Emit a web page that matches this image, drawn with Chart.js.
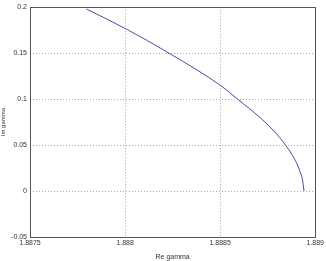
<!DOCTYPE html>
<html>
<head>
<meta charset="UTF-8">
<title>Im gamma vs Re gamma</title>
<script src="https://cdn.jsdelivr.net/npm/chart.js"></script>
<style>
  body { margin: 0; background: #fff; }
</style>
</head>
<body>
<canvas id="gammaChart" width="326" height="261"></canvas>
<script>
  // values
  const reGamma = [1.887797, 1.888005, 1.888231, 1.888510, 1.888585, 1.888723, 1.888783, 1.888844, 1.888879, 1.888903, 1.888919, 1.888933, 1.888941];
  const imGamma = [0.198, 0.1764, 0.150, 0.1137, 0.1011, 0.0775, 0.0652, 0.050, 0.0391, 0.030, 0.0217, 0.0123, 0.0];
  const xTickLabels = ['1.8875', '1.888', '1.8885', '1.889'];
  const yTickLabels = ['-0.05', '0', '0.05', '0.1', '0.15', '0.2'];

  const points = reGamma.map((x, i) => ({ x: x, y: imGamma[i] }));

  // box around the plot area, like matlab axes
  const boxPlugin = {
    id: 'box',
    afterDraw(chart) {
      const a = chart.chartArea;
      const ctx = chart.ctx;
      ctx.save();
      ctx.strokeStyle = '#555';
      ctx.lineWidth = 1;
      ctx.strokeRect(Math.round(a.left) + 0.5, Math.round(a.top) + 0.5,
        Math.round(a.right - a.left), Math.round(a.bottom - a.top));
      ctx.restore();
    }
  };

  const font = { family: 'Arial, "Liberation Sans", sans-serif', size: 7 };

  new Chart(document.getElementById('gammaChart'), {
    type: 'scatter',
    data: {
      datasets: [{
        data: points,
        showLine: true,
        borderColor: '#4b4ba8',
        borderWidth: 1,
        pointRadius: 0,
        cubicInterpolationMode: 'monotone',
        fill: false
      }]
    },
    options: {
      responsive: false,
      animation: false,
      layout: { padding: { left: 0, right: 9, top: 6, bottom: 0 } },
      plugins: { legend: { display: false }, tooltip: { enabled: false } },
      scales: {
        x: {
          type: 'linear',
          min: 1.8875,
          max: 1.889,
          afterBuildTicks(axis) {
            axis.ticks = xTickLabels.map(v => ({ value: parseFloat(v) }));
          },
          afterFit(axis) { axis.height = 24; },
          ticks: {
            color: '#333',
            font: font,
            padding: 2,
            maxRotation: 0,
            callback: (v, i) => xTickLabels[i]
          },
          grid: { color: '#aaa', tickLength: 0, lineWidth: 1 },
          border: { display: false, dash: [1, 2] },
          title: { display: true, text: 'Re gamma', color: '#333', font: font, padding: { top: 4, bottom: 0 } }
        },
        y: {
          type: 'linear',
          min: -0.05,
          max: 0.2,
          afterBuildTicks(axis) {
            axis.ticks = yTickLabels.map(v => ({ value: parseFloat(v) }));
          },
          afterFit(axis) { axis.width = 30; },
          ticks: {
            color: '#333',
            font: font,
            padding: 3,
            callback: (v, i) => yTickLabels[i]
          },
          grid: { color: '#aaa', tickLength: 0, lineWidth: 1 },
          border: { display: false, dash: [1, 2] },
          title: { display: true, text: 'Im gamma', color: '#333', font: { family: font.family, size: 6 }, padding: 0 }
        }
      }
    },
    plugins: [boxPlugin]
  });
</script>
</body>
</html>
